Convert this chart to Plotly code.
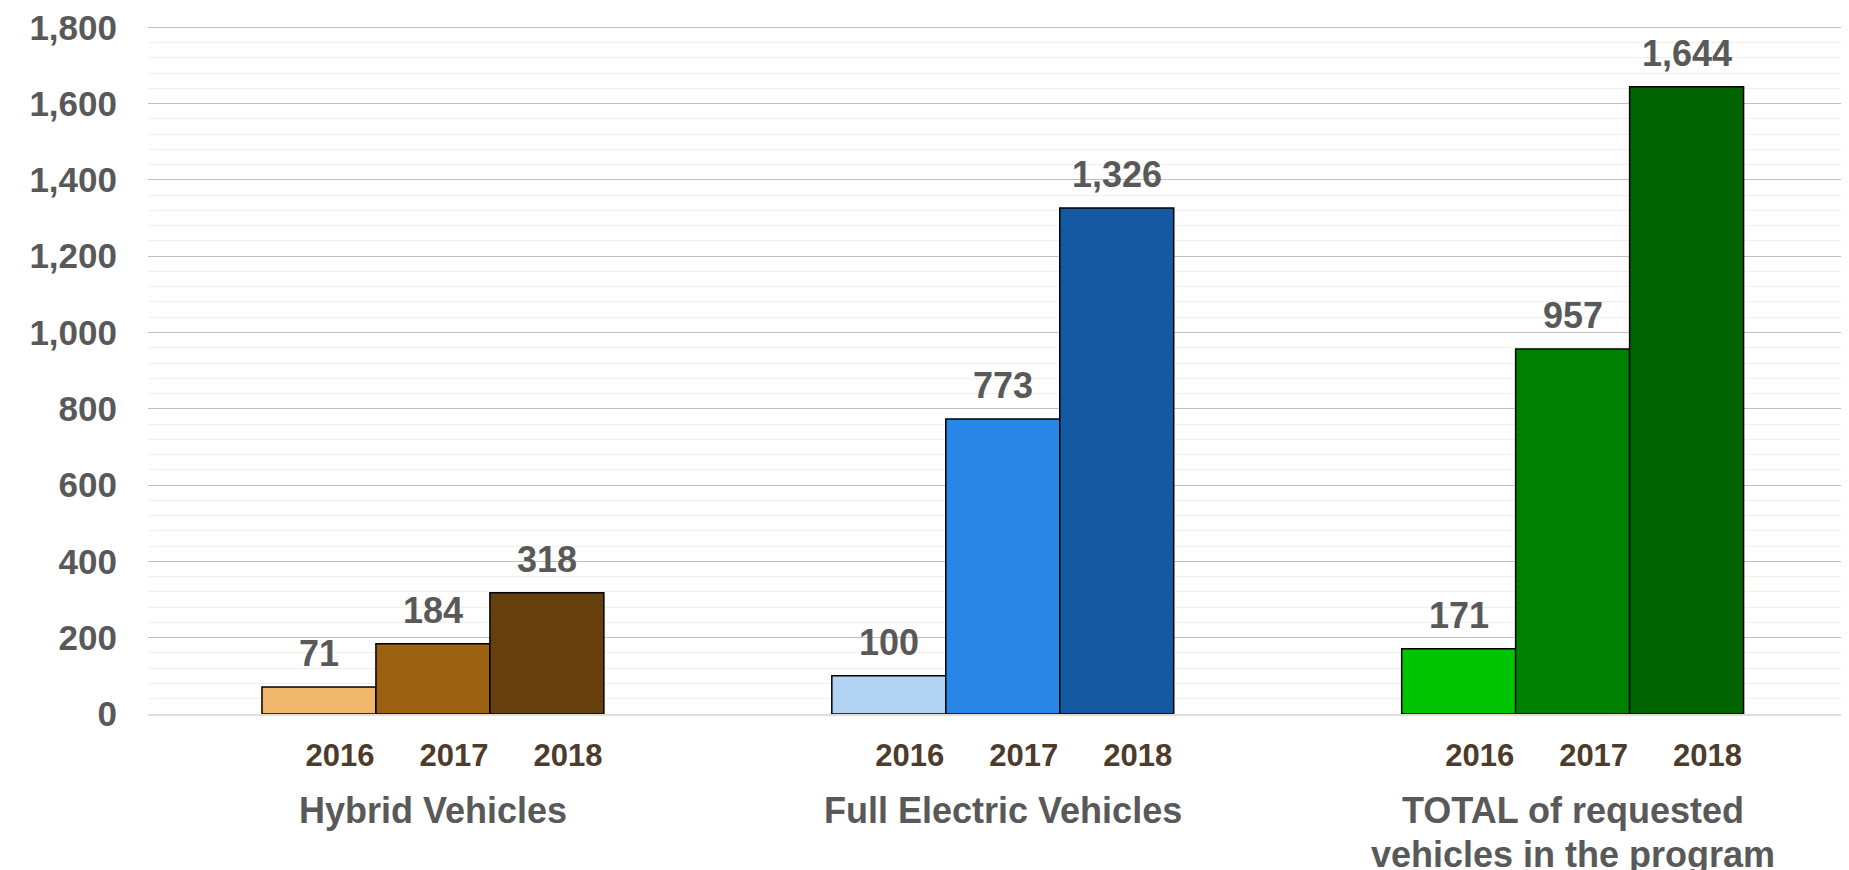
import plotly.graph_objects as go

categories = ["Hybrid Vehicles", "Full Electric Vehicles", "TOTAL of requested<br>vehicles in the program"]
years = ["2016", "2017", "2018"]
values_2016 = [71, 100, 171]
values_2017 = [184, 773, 957]
values_2018 = [318, 1326, 1644]
colors_2016 = ["#f0b86c", "#b3d3f5", "#00c400"]
colors_2017 = ["#9c6111", "#2986e6", "#008000"]
colors_2018 = ["#66400c", "#1459a1", "#006400"]
y_ticks = [0, 200, 400, 600, 800, 1000, 1200, 1400, 1600, 1800]

series = [values_2016, values_2017, values_2018]
colors = [colors_2016, colors_2017, colors_2018]

FONT = "Liberation Sans, Arial, sans-serif"
GRAY = "#595959"
BROWN = "#4d3b2b"

fig = go.Figure()
xs = list(range(len(categories)))
bar_w = 0.2
for j, (yr, vals, cols) in enumerate(zip(years, series, colors)):
    fig.add_trace(go.Bar(
        x=xs, y=vals, name=yr,
        marker=dict(color=cols, line=dict(color="#000000", width=1.5)),
        showlegend=False, hoverinfo="skip",
    ))

annotations = []
tickvals, ticktext = [], []
for j, (yr, vals) in enumerate(zip(years, series)):
    off = (j - (len(years) - 1) / 2) * bar_w
    for i, v in enumerate(vals):
        annotations.append(dict(
            x=i + off, y=v, xref="x", yref="y", text=f"{v:,}",
            showarrow=False, yanchor="bottom", yshift=11,
            font=dict(family=FONT, size=36, color=GRAY, weight="bold"),
        ))
        tickvals.append(i + off)
        ticktext.append(yr)

for i, c in enumerate(categories):
    for k, line in enumerate(c.split("<br>")):
        annotations.append(dict(
            x=i, y=0, xref="x", yref="paper", text=line, showarrow=False,
            yanchor="top", yshift=-74 - 44 * k,
            font=dict(family=FONT, size=36, color=GRAY, weight="bold"),
        ))

fig.update_layout(
    width=1841, height=862,
    margin=dict(l=140, r=0, t=13, b=156),
    barmode="group", bargap=0.4, bargroupgap=0,
    plot_bgcolor="white", paper_bgcolor="white",
    annotations=annotations,
    xaxis=dict(
        range=[-0.5, 2.485], tickvals=tickvals, ticktext=ticktext,
        tickfont=dict(family=FONT, size=31, color=BROWN, weight="bold"),
        ticklabelshift=21, ticklabelstandoff=13,
        showgrid=False, zeroline=False, showline=True,
        linecolor="#e4ddd4", linewidth=2, ticks="",
    ),
    yaxis=dict(
        range=[0, 1806], tickvals=y_ticks, tickformat=",",
        tickfont=dict(family=FONT, size=35, color=GRAY, weight="bold"),
        ticklabelstandoff=30, ticklabeloverflow="allow",
        showgrid=True, gridcolor="#c0c0c0", gridwidth=1.3,
        zeroline=False, showline=False, ticks="",
        minor=dict(dtick=40, showgrid=True, gridcolor="#f6efe9", gridwidth=1.3),
    ),
)

fig.write_html("out.html")
